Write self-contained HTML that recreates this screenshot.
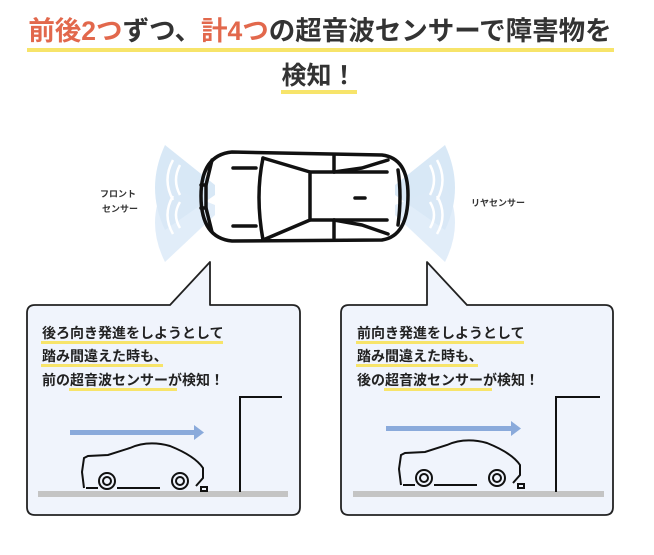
<!DOCTYPE html>
<html><head><meta charset="utf-8"><style>
body{margin:0;width:654px;height:555px;background:#fff;overflow:hidden;font-family:"Liberation Sans","Noto Sans CJK JP",sans-serif}
svg{position:absolute;left:0;top:0}
text{font-family:"Liberation Sans","Noto Sans CJK JP",sans-serif;font-weight:bold}
</style></head><body>
<svg width="654" height="555" viewBox="0 0 654 555">
<!-- title -->
<rect x="27" y="48" width="587" height="4" fill="#f7e46a"/>
<rect x="281" y="90" width="76" height="4" fill="#f7e46a"/>
<text x="320" y="40" font-size="26.5" text-anchor="middle" fill="#333"><tspan fill="#e2684c">前後2つ</tspan>ずつ、<tspan fill="#e2684c">計4つ</tspan>の超音波センサーで障害物を</text>
<text x="319" y="84" font-size="25" text-anchor="middle" fill="#333">検知！</text>

<!-- sensor waves -->
<g fill="#d4e6f6" opacity="0.9">
<path d="M165 145 L215 185 L215 195 L165 230 Q145 188 165 145Z"/>
<path d="M165 185 L215 205 L215 215 L165 262 Q145 222 165 185Z" opacity="0.8"/>
<path d="M445 145 L395 185 L395 195 L445 230 Q465 188 445 145Z"/>
<path d="M445 185 L395 205 L395 215 L445 262 Q465 222 445 185Z" opacity="0.8"/>
</g>
<g fill="none" stroke="#fff" stroke-width="2.5">
<path d="M180 165 Q172 180 180 195"/><path d="M173 160 Q162 180 173 200"/>
<path d="M180 202 Q172 215 180 228"/><path d="M173 196 Q162 215 173 234"/>
<path d="M430 165 Q438 180 430 195"/><path d="M437 160 Q448 180 437 200"/>
<path d="M430 202 Q438 215 430 228"/><path d="M437 196 Q448 215 437 234"/>
</g>
<text x="118" y="197" font-size="9" text-anchor="middle" fill="#333">フロント</text>
<text x="120" y="212" font-size="9" text-anchor="middle" fill="#333">センサー</text>
<text x="498" y="206" font-size="9" text-anchor="middle" fill="#333">リヤセンサー</text>

<!-- top car -->
<g fill="none" stroke="#111" stroke-width="3.5" stroke-linecap="round" stroke-linejoin="round">
<path d="M232 152 L382 155 Q408 158 408 195 Q408 236 382 240 L232 241 Q201 238 201 196 Q201 155 232 152Z"/>
<path d="M201 185 L206 185 L206 208 L201 208"/>
<path d="M212 160 L206 185 M206 208 L212 232"/>
<path d="M263 158 Q255 196 263 240"/>
<path d="M263 158 L310 172 L310 220 L263 240"/>
<path d="M310 172 L387 172 M310 220 L387 220"/>
<path d="M334 156 L334 172 M334 220 L334 238"/>
<path d="M334 172 L362 168 L388 160 M334 220 L362 225 L388 234"/>
<path d="M398 170 Q402 196 398 225"/>
<path d="M233 168 L256 168 M233 226 L256 226 M355 198 L365 198"/>
</g>

<!-- bubbles -->
<g fill="#f0f4fc" stroke="#222" stroke-width="1.8" stroke-linejoin="round">
<path d="M35 305 L170 305 L210 262 L210 305 L292 305 Q300 305 300 313 L300 507 Q300 515 292 515 L35 515 Q27 515 27 507 L27 313 Q27 305 35 305Z"/>
<path d="M349 305 L427 305 L427 262 L467 305 L605 305 Q613 305 613 313 L613 507 Q613 515 605 515 L349 515 Q341 515 341 507 L341 313 Q341 305 349 305Z"/>
</g>

<g fill="#f7e46a">
<rect x="41" y="341" width="182" height="3"/><rect x="41" y="364" width="122" height="3"/><rect x="69" y="388" width="108" height="3"/>
<rect x="356" y="341" width="168" height="3"/><rect x="356" y="364" width="122" height="3"/><rect x="384" y="388" width="108" height="3"/>
</g>
<g font-size="14" fill="#222">
<text x="42" y="338">後ろ向き発進をしようとして</text>
<text x="42" y="361">踏み間違えた時も、</text>
<text x="42" y="385">前の超音波センサーが検知！</text>
<text x="357" y="338">前向き発進をしようとして</text>
<text x="357" y="361">踏み間違えた時も、</text>
<text x="357" y="385">後の超音波センサーが検知！</text>
</g>

<!-- scenes -->
<g fill="#8aaadb">
<rect x="70" y="430" width="125" height="5"/><path d="M194 425 L204 432.5 L194 440Z"/>
<rect x="386" y="426" width="126" height="5"/><path d="M511 421 L521 428.5 L511 436Z"/>
</g>
<rect x="38" y="491" width="250" height="6" fill="#c4c4c4"/>
<rect x="353" y="491" width="251" height="6" fill="#c4c4c4"/>
<g fill="none" stroke="#111" stroke-width="2">
<path d="M240 492 L240 397 L282 397"/>
<path d="M556 492 L556 397 L600 397"/>
<g>
<path d="M84 488 L82 472 L84 458 L88 456 L108 455 L130 448 Q148 440 170 446 Q195 456 203 468 L203 478 L196 486 M160 488 L117 488 M98 488 L86 488"/>
<circle cx="107" cy="481" r="8"/><circle cx="107" cy="481" r="4"/>
<circle cx="180" cy="481" r="8"/><circle cx="180" cy="481" r="4"/>
<rect x="201" y="487" width="6" height="4"/>
</g>
<g transform="translate(317,-3)">
<path d="M84 488 L82 472 L84 458 L88 456 L108 455 L130 448 Q148 440 170 446 Q195 456 203 468 L203 478 L196 486 M160 488 L117 488 M98 488 L86 488"/>
<circle cx="107" cy="481" r="8"/><circle cx="107" cy="481" r="4"/>
<circle cx="180" cy="481" r="8"/><circle cx="180" cy="481" r="4"/>
<rect x="201" y="487" width="6" height="4"/>
</g>
</g>
</svg>
</body></html>
